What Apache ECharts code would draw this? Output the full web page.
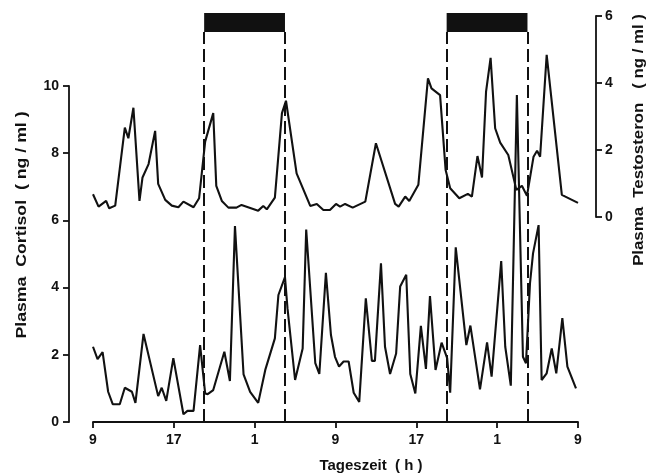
<!DOCTYPE html>
<html><head><meta charset="utf-8">
<script src="https://cdn.jsdelivr.net/npm/echarts@6/dist/echarts.min.js"></script>
<style>html,body{margin:0;padding:0;background:#fff}#c{width:646px;height:474px}</style>
</head><body><div id="c"></div>
<script>
// time axis: hours after 9:00 of day 1
const hourTicks = [0, 8, 16, 24, 32, 40, 48];
const hourLabels = ['9', '17', '1', '9', '17', '1', '9'];

const cortisolHours = [0.0,0.45,0.95,1.5,1.95,2.65,3.15,3.85,4.2,5.0,6.45,6.8,7.25,7.95,8.95,9.35,9.95,10.6,11.1,11.35,11.9,13.0,13.55,14.05,14.9,15.55,16.35,17.05,18.0,18.35,19.0,19.25,20.0,20.75,21.1,22.0,22.4,23.05,23.55,23.95,24.35,24.8,25.3,25.8,26.35,27.0,27.6,27.9,28.5,28.9,29.4,30.0,30.4,31.0,31.4,31.9,32.45,32.95,33.35,33.9,34.5,35.05,35.35,35.9,36.95,37.35,38.3,39.0,39.45,40.4,40.8,41.35,41.95,42.55,42.85,43.25,43.55,44.1,44.4,44.9,45.4,45.85,46.45,46.95,47.8];
const cortisolValues = [2.24,1.87,2.08,0.9,0.53,0.53,1.02,0.9,0.57,2.62,0.77,1.02,0.63,1.9,0.23,0.33,0.33,2.29,0.85,0.83,0.95,2.09,1.22,5.83,1.42,0.9,0.57,1.55,2.49,3.78,4.31,3.38,1.25,2.19,5.73,1.75,1.43,4.44,2.59,1.94,1.65,1.8,1.8,0.87,0.6,3.68,1.82,1.82,4.72,2.24,1.43,2.04,4.03,4.38,1.43,0.85,2.86,1.58,3.75,1.55,2.36,1.9,0.87,5.2,2.29,2.87,0.97,2.37,1.35,4.79,2.24,1.08,9.73,1.94,1.75,4.13,5.02,5.86,1.25,1.45,2.19,1.45,3.09,1.65,1.0];

const testoHours = [0.0,0.55,1.3,1.6,2.2,3.15,3.5,4.0,4.6,4.9,5.5,6.15,6.45,7.15,7.8,8.45,8.95,9.95,10.5,11.1,11.9,12.2,12.75,13.4,14.2,14.7,16.35,16.85,17.2,18.0,18.7,19.1,20.15,21.5,22.15,22.8,23.45,24.05,24.45,24.95,25.7,26.95,28.0,29.9,30.25,30.9,31.3,32.2,33.15,33.5,34.35,34.9,35.35,36.25,37.1,37.5,38.05,38.5,38.9,39.35,39.8,40.3,41.1,41.9,42.45,42.95,43.6,43.95,44.25,44.9,46.4,48.0];
const testoValues = [0.68,0.31,0.48,0.26,0.34,2.67,2.35,3.26,0.48,1.18,1.58,2.57,0.99,0.51,0.34,0.29,0.46,0.29,0.56,2.25,3.1,0.93,0.48,0.28,0.28,0.36,0.19,0.33,0.23,0.58,3.1,3.47,1.3,0.33,0.39,0.21,0.21,0.39,0.31,0.39,0.28,0.46,2.2,0.39,0.31,0.61,0.48,0.96,4.14,3.84,3.64,1.4,0.86,0.56,0.69,0.61,1.82,1.18,3.74,4.75,2.65,2.22,1.85,0.81,0.93,0.63,1.8,1.98,1.8,4.84,0.66,0.42];

// dark periods (lights off)
const nightStart = [11, 35];
const nightEnd = [19, 43];

const FONT = "'Liberation Sans', Arial, Helvetica, sans-serif";
const INK = '#111';

const chart = echarts.init(document.getElementById('c'), null, {renderer: 'canvas'});

const zip = (xs, ys) => xs.map((x, i) => [x, ys[i]]);
const hiddenX = (gi) => ({type: 'value', gridIndex: gi, min: 0, max: 48, show: false});
const hiddenY = (gi) => ({type: 'value', gridIndex: gi, min: 0, max: 1, show: false});
const axLine = {show: true, onZero: false, lineStyle: {color: INK, width: 1.8}};
const axTick = {show: true, length: 6, lineStyle: {color: INK, width: 1.8}};
const tickFont = {color: INK, fontFamily: FONT, fontWeight: 'bold', fontSize: 14};

chart.setOption({
  animation: false,
  backgroundColor: '#fff',
  grid: [
    {left: 93, right: 68, top: 86, bottom: 52},   // cortisol
    {left: 93, right: 68, top: 16, height: 201},  // testosterone
    {left: 93, right: 68, top: 13, height: 19},   // dark bars
    {left: 93, right: 68, top: 32, bottom: 52}    // dashed night lines
  ],
  xAxis: [
    {
      type: 'value', gridIndex: 0, min: 0, max: 48, interval: 8,
      axisLine: axLine, axisTick: axTick,
      splitLine: {show: false},
      axisLabel: Object.assign({
        margin: 11,
        formatter: v => { const i = hourTicks.indexOf(v); return i >= 0 ? hourLabels[i] : ''; }
      }, tickFont)
    },
    hiddenX(1), hiddenX(2), hiddenX(3)
  ],
  yAxis: [
    {
      type: 'value', gridIndex: 0, min: 0, max: 10, interval: 2, position: 'left', offset: 24,
      axisLine: axLine, axisTick: axTick,
      splitLine: {show: false},
      axisLabel: Object.assign({margin: 10}, tickFont)
    },
    {
      type: 'value', gridIndex: 1, min: 0, max: 6, interval: 2, position: 'right', offset: 18,
      axisLine: axLine, axisTick: axTick,
      splitLine: {show: false},
      axisLabel: Object.assign({margin: 9}, tickFont)
    },
    hiddenY(2), hiddenY(3)
  ],
  graphic: [
    {type: 'text', x: 22, y: 225, rotation: Math.PI / 2, scaleX: 1.18,
     style: {text: 'Plasma  Cortisol  ( ng / ml )', fill: INK, font: 'bold 15px ' + FONT, align: 'center', verticalAlign: 'middle'}},
    {type: 'text', x: 639, y: 140, rotation: Math.PI / 2, scaleX: 1.12,
     style: {text: 'Plasma  Testosteron   ( ng / ml )', fill: INK, font: 'bold 15px ' + FONT, align: 'center', verticalAlign: 'middle'}},
    {type: 'text', x: 371, y: 466,
     style: {text: 'Tageszeit  ( h )', fill: INK, font: 'bold 15px ' + FONT, align: 'center', verticalAlign: 'middle'}}
  ],
  series: [
    {
      name: 'Cortisol', type: 'line', xAxisIndex: 0, yAxisIndex: 0,
      data: zip(cortisolHours, cortisolValues), showSymbol: false, symbol: 'none',
      lineStyle: {color: INK, width: 2.1}, z: 3
    },
    {
      name: 'Testosteron', type: 'line', xAxisIndex: 1, yAxisIndex: 1,
      data: zip(testoHours, testoValues), showSymbol: false, symbol: 'none',
      lineStyle: {color: INK, width: 2.1}, z: 3
    },
    {
      name: 'dark', type: 'line', xAxisIndex: 2, yAxisIndex: 2, data: [], silent: true,
      markArea: {
        silent: true, itemStyle: {color: INK},
        data: nightStart.map((s, i) => [{xAxis: s}, {xAxis: nightEnd[i]}])
      }
    },
    {
      name: 'nightLines', type: 'line', xAxisIndex: 3, yAxisIndex: 3, data: [], silent: true,
      markLine: {
        silent: true, symbol: ['none', 'none'], label: {show: false},
        lineStyle: {color: INK, width: 2, type: [13, 5]},
        data: nightStart.concat(nightEnd).map(v => ({xAxis: v}))
      }
    }
  ]
});
</script>
</body></html>
